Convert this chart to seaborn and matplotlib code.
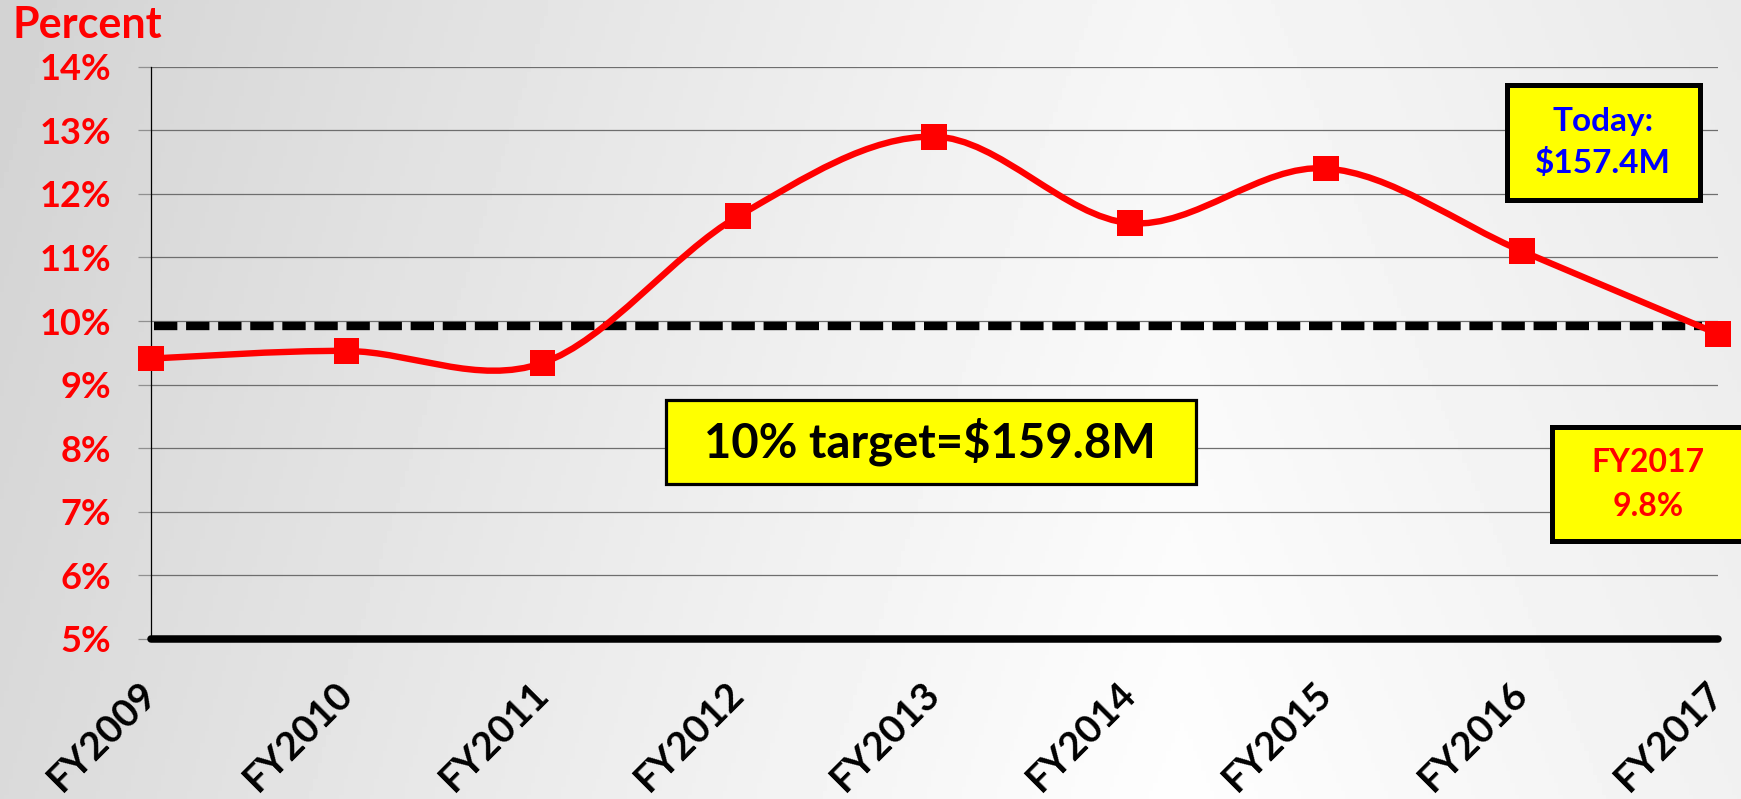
# Percent chart FY2009-FY2017 with 10% target
import numpy as np
import pandas as pd
import matplotlib.pyplot as plt
import seaborn as sns
from matplotlib.path import Path
from matplotlib.patches import PathPatch, Rectangle

# data
years = ['FY2009', 'FY2010', 'FY2011', 'FY2012', 'FY2013',
         'FY2014', 'FY2015', 'FY2016', 'FY2017']
pct = [9.41, 9.53, 9.34, 11.65, 12.90, 11.54, 12.40, 11.10, 9.80]
target = 9.93
y_ticks = [5, 6, 7, 8, 9, 10, 11, 12, 13, 14]

sns.set_theme(style='white')
plt.rcParams['font.family'] = ['Lato', 'DejaVu Sans']
plt.rcParams['font.weight'] = 'bold'

W, H = 1741, 799
fig = plt.figure(figsize=(W / 100, H / 100), dpi=100)

# light grey gradient background: darker on the left, near white centre-right
bg = fig.add_axes([0, 0, 1, 1], zorder=-10)
gx, gy = np.meshgrid(np.linspace(0, 1, 400), np.linspace(0, 1, 200))
left_part = 0.14 * np.clip((0.68 - gx) / 0.68, 0, 1) ** 1.1
right_part = 0.05 * np.clip((gx - 0.68) / 0.32, 0, 1)
shade = 0.995 - left_part - right_part - 0.03 * gy
bg.imshow(shade, cmap='gray', vmin=0, vmax=1, aspect='auto', extent=[0, 1, 0, 1],
          origin='lower')
bg.axis('off')

def fx(px):
    return px / W

def fy(py):
    return 1 - py / H

ax = fig.add_axes([fx(150.7), fy(639), fx(1717.7) - fx(150.7), fy(66.7) - fy(639)])
ax.set_facecolor('none')

xs = np.arange(len(years))
df = pd.DataFrame({'x': xs, 'pct': pct, 'year': years})

# smoothed line (Excel-style bezier through the points)
pts = np.column_stack([xs, pct]).astype(float)
verts = [pts[0]]
codes = [Path.MOVETO]
n = len(pts)
for i in range(n - 1):
    p0 = pts[max(i - 1, 0)]
    p1 = pts[i]
    p2 = pts[i + 1]
    p3 = pts[min(i + 2, n - 1)]
    verts += [p1 + (p2 - p0) / 6, p2 - (p3 - p1) / 6, p2]
    codes += [Path.CURVE4] * 3
ax.add_patch(PathPatch(Path(verts, codes), facecolor='none', edgecolor='#ff0000',
                       lw=4.6, zorder=4, capstyle='round'))

sns.scatterplot(data=df, x='x', y='pct', marker='s', s=345, color='#ff0000',
                edgecolor='none', linewidth=0, zorder=5, clip_on=False, ax=ax)

# target line
ax.axhline(target, xmin=0.002, xmax=0.99, color='black', lw=6, dashes=(2.8, 1.05), zorder=3)
# thick baseline
ax.axhline(5, xmin=0, xmax=1, color='black', lw=5.4, clip_on=False, zorder=6)

ax.set_xlim(0, len(years) - 1)
ax.set_ylim(5, 14)
ax.set_yticks(y_ticks)
ax.set_yticklabels([f'{t}%' for t in y_ticks], color='#ff0000', fontsize=26,
                   fontweight='bold')
ax.set_xticks(xs)
ax.set_xticklabels(years, rotation=45, ha='right', rotation_mode='anchor',
                   va='center', fontsize=28, fontweight='bold', color='black')
ax.tick_params(axis='y', length=9.4, width=0.9, color='#909090', pad=19, left=True)
ax.tick_params(axis='x', length=0, pad=35)
ax.yaxis.grid(True, color='#6e6e6e', lw=0.9)
ax.xaxis.grid(False)
ax.set_xlabel('')
ax.set_ylabel('')
for s in ['top', 'right', 'bottom']:
    ax.spines[s].set_visible(False)
ax.spines['left'].set_color('black')
ax.spines['left'].set_linewidth(0.9)

fig.text(fx(13), fy(38), 'Percent', color='#ff0000', fontsize=31,
         fontweight='bold', va='baseline', ha='left')

# annotation boxes
fig.add_artist(Rectangle((fx(666), fy(484)), fx(1196) - fx(666), fy(400) - fy(484),
                         transform=fig.transFigure, facecolor='#ffff00',
                         edgecolor='black', lw=2.3, zorder=20))
fig.text(fx(930), fy(442), '10% target=$159.8M', color='black', fontsize=34,
         fontweight='bold', ha='center', va='center', zorder=21)

fig.add_artist(Rectangle((fx(1507), fy(200)), fx(1700) - fx(1507), fy(85) - fy(200),
                         transform=fig.transFigure, facecolor='#ffff00',
                         edgecolor='black', lw=3.6, zorder=20))
fig.text(fx(1603), fy(122), 'Today:', color='#0000ff', fontsize=24,
         fontweight='bold', ha='center', va='center', zorder=21)
fig.text(fx(1603), fy(163), '$157.4M', color='#0000ff', fontsize=24,
         fontweight='bold', ha='center', va='center', zorder=21)

fig.add_artist(Rectangle((fx(1552), fy(541)), fx(1760) - fx(1552), fy(427) - fy(541),
                         transform=fig.transFigure, facecolor='#ffff00',
                         edgecolor='black', lw=3.6, zorder=20))
fig.text(fx(1648), fy(462), 'FY2017', color='#ff0000', fontsize=23,
         fontweight='bold', ha='center', va='center', zorder=21)
fig.text(fx(1648), fy(507), '9.8%', color='#ff0000', fontsize=23,
         fontweight='bold', ha='center', va='center', zorder=21)

fig.savefig('out.png', dpi=100)
